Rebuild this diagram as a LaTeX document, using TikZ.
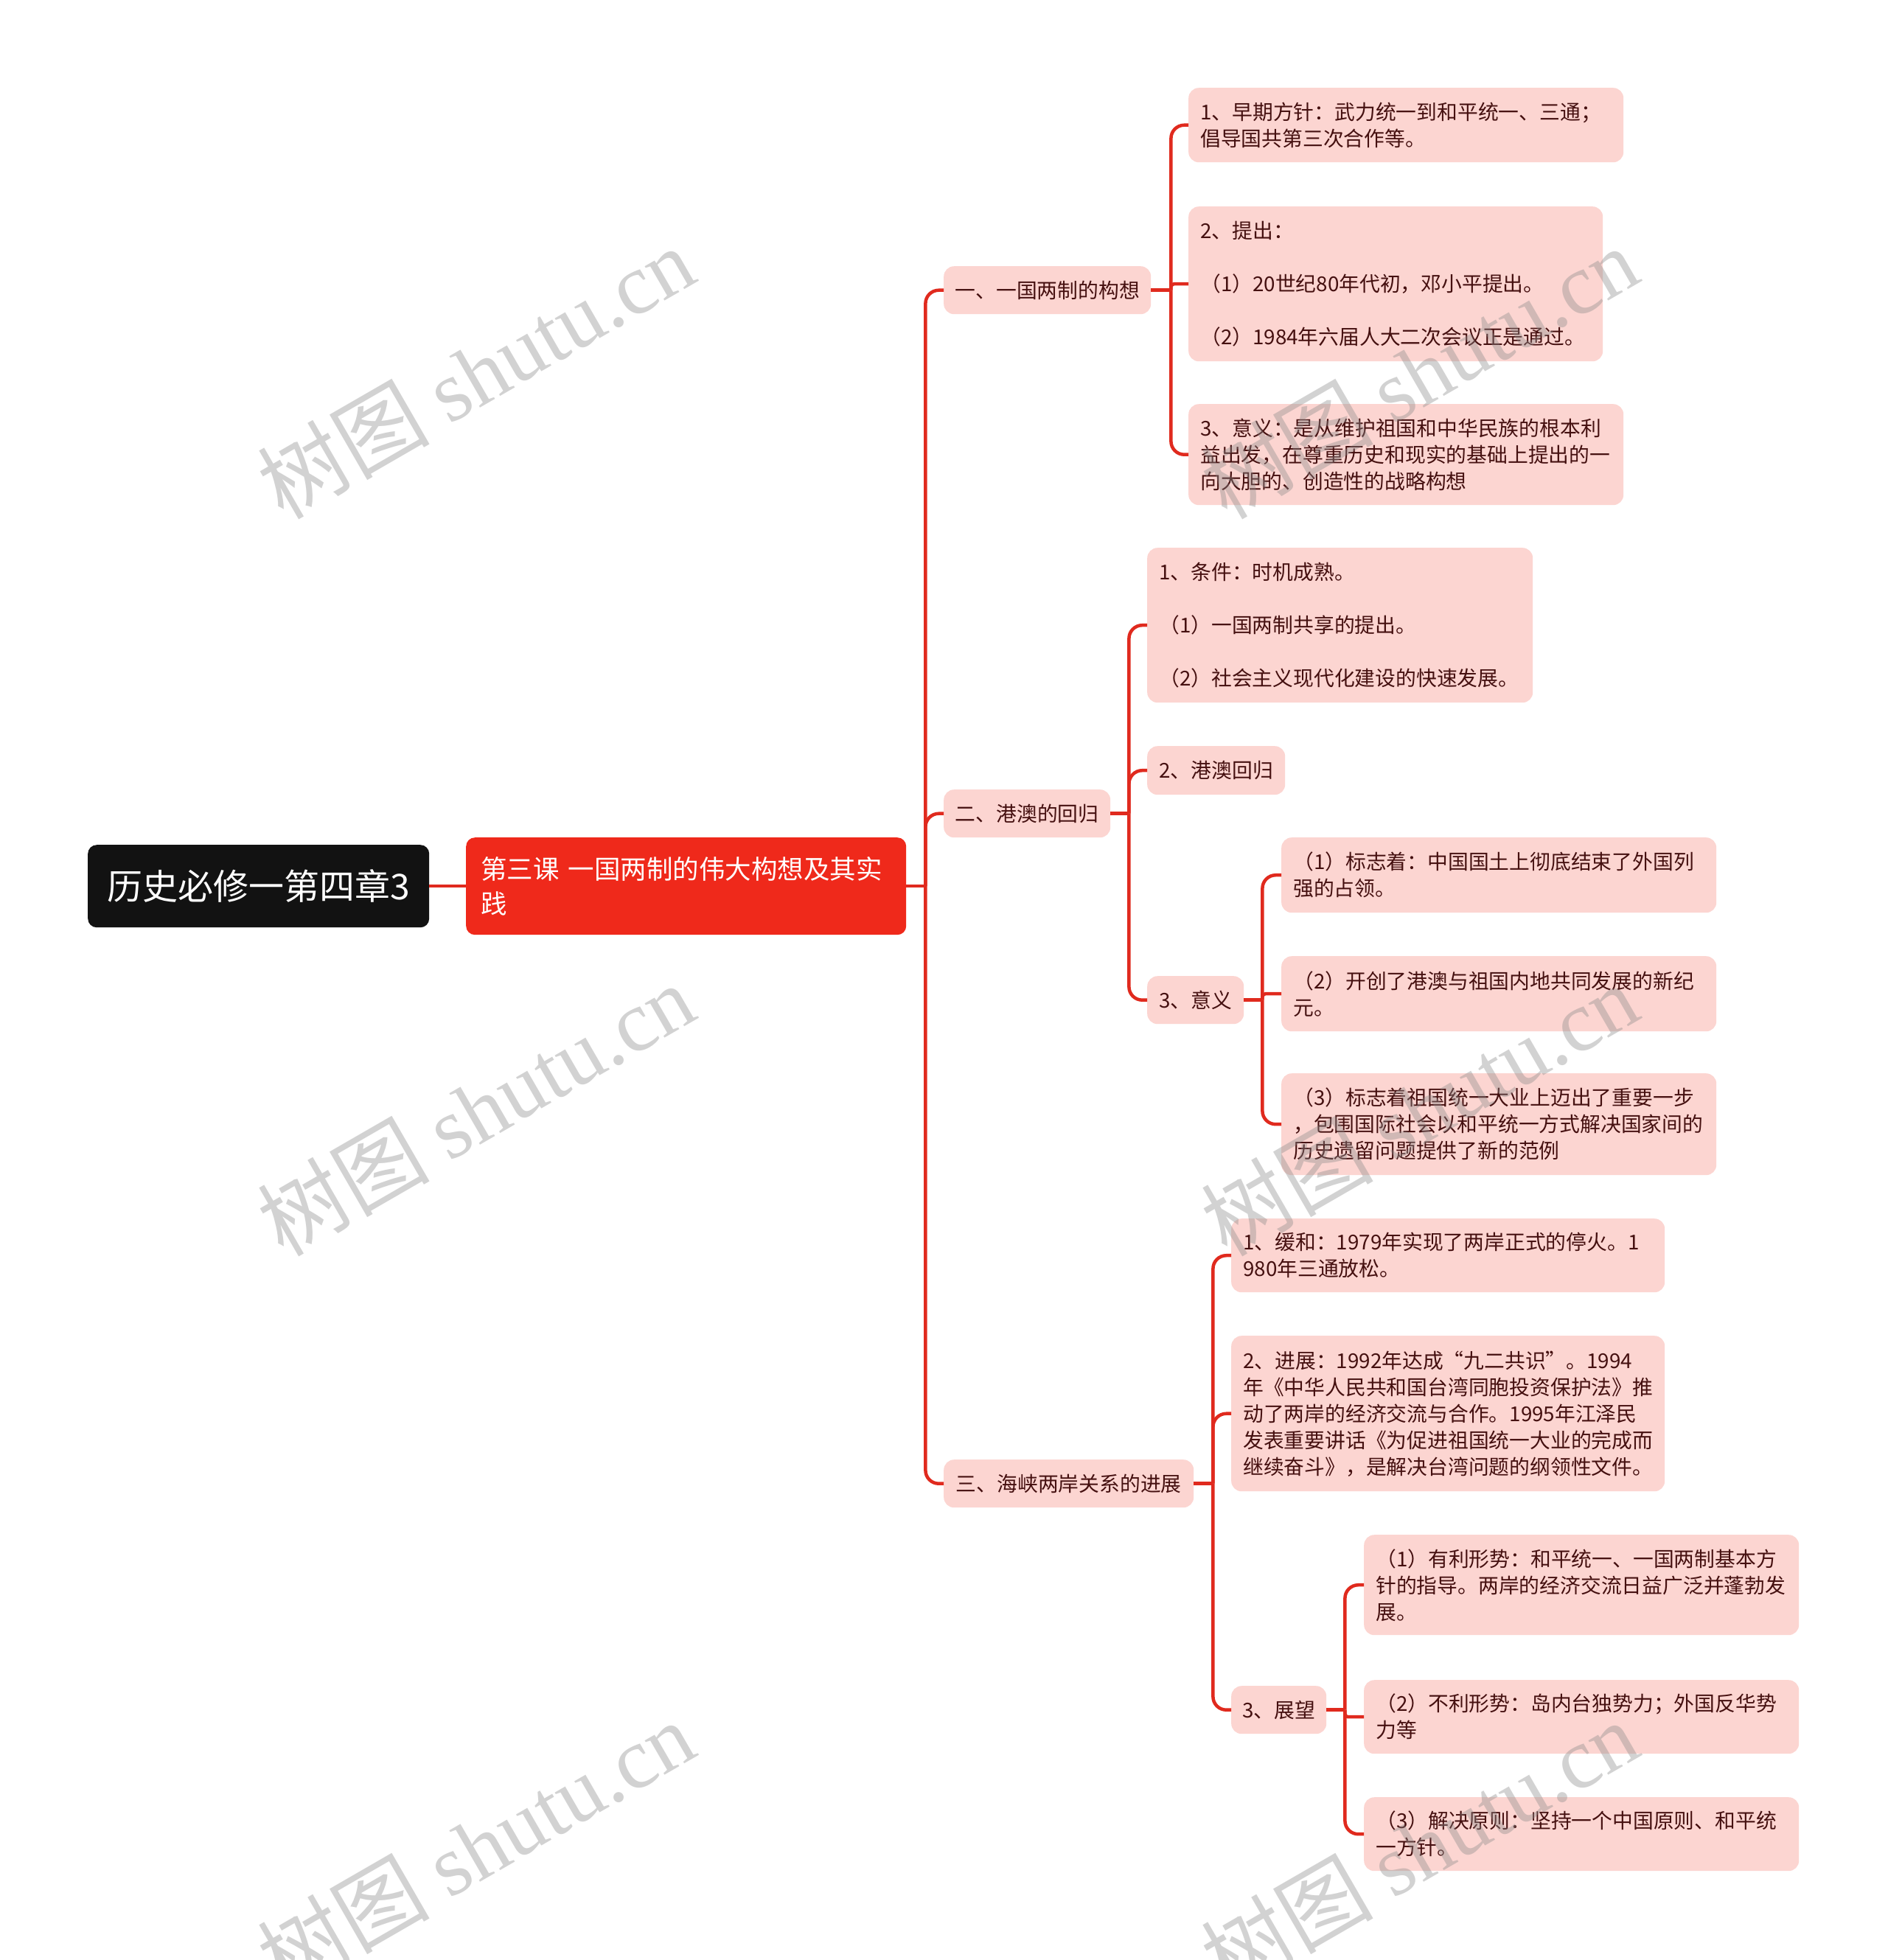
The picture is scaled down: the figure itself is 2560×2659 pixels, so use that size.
\documentclass[tikz,border=0pt]{standalone}
\usepackage{fontspec}
\setmainfont{Noto Sans CJK SC}
\newfontfamily\wmlatin{Liberation Serif}
\definecolor{pinkfill}{HTML}{FCD5D1}
\definecolor{linered}{HTML}{E02A1E}
\definecolor{txtbrown}{HTML}{451010}
\definecolor{mainred}{HTML}{EF291B}
\definecolor{rootblack}{HTML}{121212}
\definecolor{wmgray}{HTML}{8A8A8A}
\tikzset{
  box/.style={rounded corners=14pt, fill=pinkfill, text=txtbrown,
    font=\fontsize{27.8}{36}\selectfont, inner xsep=17pt, inner ysep=0pt, anchor=north west},
  boxl/.style={box, align=left},
  boxc/.style={box, align=center},
  conn/.style={draw=linered, line width=4.5pt, rounded corners=18pt},
  wm/.style={rotate=30, text=wmgray, text opacity=0.38, font=\fontsize{117}{117}\selectfont, inner sep=0pt}
}
\begin{document}
\begin{tikzpicture}[x=1pt,y=-1pt]
\useasboundingbox[fill=white] (0,0) rectangle (2560,2659);

% root and main
\node[rounded corners=12pt, fill=rootblack, text=white, font=\fontsize{48}{56}\selectfont,
  minimum width=463pt, minimum height=112pt, inner sep=0pt, anchor=north west, align=center]
  (root) at (119,1146) {历史必修一第四章3};
\node[rounded corners=12pt, fill=mainred, text=white, font=\fontsize{35.5}{47}\selectfont,
  minimum width=597pt, minimum height=132pt, inner xsep=20pt, inner ysep=0pt, anchor=north west,
  align=left, text width=557pt]
  (main) at (632,1136) {第三课~一国两制的伟大构想及其实\\践};

% level 1
\node[boxc, minimum width=281pt, minimum height=65pt, inner xsep=0pt] (A) at (1280,361) {一、一国两制的构想};
\node[boxc, minimum width=226pt, minimum height=65pt, inner xsep=0pt] (B) at (1280,1071) {二、港澳的回归};
\node[boxc, minimum width=339pt, minimum height=65pt, inner xsep=0pt] (C) at (1280,1980) {三、海峡两岸关系的进展};

% A children
\node[boxl, minimum width=590pt, minimum height=101pt, text width=558pt, inner xsep=16pt] (A1) at (1612,119)
  {1、早期方针：武力统一到和平统一、三通；\\倡导国共第三次合作等。};
\node[boxl, minimum width=562pt, minimum height=210pt, text width=530pt, inner xsep=16pt] (A2) at (1612,280)
  {2、提出：\\[36pt]（1）20世纪80年代初，邓小平提出。\\[36pt]（2）1984年六届人大二次会议正是通过。};
\node[boxl, minimum width=590pt, minimum height=137pt, text width=558pt, inner xsep=16pt] (A3) at (1612,548)
  {3、意义：是从维护祖国和中华民族的根本利\\益出发，在尊重历史和现实的基础上提出的一\\向大胆的、创造性的战略构想};

% B children
\node[boxl, minimum width=523pt, minimum height=210pt, text width=491pt, inner xsep=16pt] (B1) at (1556,743)
  {1、条件：时机成熟。\\[36pt]（1）一国两制共享的提出。\\[36pt]（2）社会主义现代化建设的快速发展。};
\node[boxc, minimum width=187pt, minimum height=66pt, inner xsep=0pt] (B2) at (1556,1012) {2、港澳回归};
\node[boxc, minimum width=131pt, minimum height=65pt, inner xsep=0pt] (B3) at (1556,1324) {3、意义};

% B3 children
\node[boxl, minimum width=590pt, minimum height=102pt, text width=558pt, inner xsep=16pt] (B3a) at (1738,1136)
  {（1）标志着：中国国土上彻底结束了外国列\\强的占领。};
\node[boxl, minimum width=590pt, minimum height=102pt, text width=558pt, inner xsep=16pt] (B3b) at (1738,1297)
  {（2）开创了港澳与祖国内地共同发展的新纪\\元。};
\node[boxl, minimum width=590pt, minimum height=138pt, text width=558pt, inner xsep=16pt] (B3c) at (1738,1456)
  {（3）标志着祖国统一大业上迈出了重要一步\\，包围国际社会以和平统一方式解决国家间的\\历史遗留问题提供了新的范例};

% C children
\node[boxl, minimum width=588pt, minimum height=100pt, text width=556pt, inner xsep=16pt] (C1) at (1670,1653)
  {1、缓和：1979年实现了两岸正式的停火。1\\980年三通放松。};
\node[boxl, minimum width=588pt, minimum height=211pt, text width=556pt, inner xsep=16pt] (C2) at (1670,1812)
  {2、进展：1992年达成“九二共识”。1994\\年《中华人民共和国台湾同胞投资保护法》推\\动了两岸的经济交流与合作。1995年江泽民\\发表重要讲话《为促进祖国统一大业的完成而\\继续奋斗》，是解决台湾问题的纲领性文件。};
\node[boxc, minimum width=129pt, minimum height=65pt, inner xsep=0pt] (C3) at (1670,2287) {3、展望};

% C3 children
\node[boxl, minimum width=590pt, minimum height=136pt, text width=558pt, inner xsep=16pt] (C3a) at (1850,2082)
  {（1）有利形势：和平统一、一国两制基本方\\针的指导。两岸的经济交流日益广泛并蓬勃发\\展。};
\node[boxl, minimum width=590pt, minimum height=100pt, text width=558pt, inner xsep=16pt] (C3b) at (1850,2279)
  {（2）不利形势：岛内台独势力；外国反华势\\力等};
\node[boxl, minimum width=590pt, minimum height=100pt, text width=558pt, inner xsep=16pt] (C3c) at (1850,2438)
  {（3）解决原则：坚持一个中国原则、和平统\\一方针。};

% connectors
\draw[conn] (root.east) -- (main.west);

\path (main.east) ++(26,0) coordinate (tm);
\draw[conn] (main.east) -- (tm);
\draw[conn] (tm) |- (A.west);
\draw[conn] (tm) |- (B.west);
\draw[conn] (tm) |- (C.west);

\path (A.east) ++(27,0) coordinate (ta);
\draw[conn] (A.east) -- (ta);
\draw[conn] (ta) |- (A1.west);
\draw[conn, rounded corners=4pt] (ta) |- (A2.west);
\draw[conn] (ta) |- (A3.west);

\path (B.east) ++(25,0) coordinate (tb);
\draw[conn] (B.east) -- (tb);
\draw[conn] (tb) |- (B1.west);
\draw[conn] (tb) |- (B2.west);
\draw[conn] (tb) |- (B3.west);

\path (B3.east) ++(25,0) coordinate (tb3);
\draw[conn] (B3.east) -- (tb3);
\draw[conn] (tb3) |- (B3a.west);
\draw[conn, rounded corners=4pt] (tb3) |- (B3b.west);
\draw[conn] (tb3) |- (B3c.west);

\path (C.east) ++(26,0) coordinate (tc);
\draw[conn] (C.east) -- (tc);
\draw[conn] (tc) |- (C1.west);
\draw[conn] (tc) |- (C2.west);
\draw[conn] (tc) |- (C3.west);

\path (C3.east) ++(25,0) coordinate (tc3);
\draw[conn] (C3.east) -- (tc3);
\draw[conn] (tc3) |- (C3a.west);
\draw[conn, rounded corners=4pt] (tc3) |- (C3b.west);
\draw[conn] (tc3) |- (C3c.west);

% watermarks
\node[wm] (wm1) at (645,505) {树图 {\wmlatin shutu.cn}};
\node[wm] (wm2) at (645,1505) {树图 {\wmlatin shutu.cn}};
\node[wm] (wm3) at (645,2505) {树图 {\wmlatin shutu.cn}};
\node[wm] (wm4) at (1925,505) {树图 {\wmlatin shutu.cn}};
\node[wm] (wm5) at (1925,1505) {树图 {\wmlatin shutu.cn}};
\node[wm] (wm6) at (1925,2505) {树图 {\wmlatin shutu.cn}};
\end{tikzpicture}
\end{document}
